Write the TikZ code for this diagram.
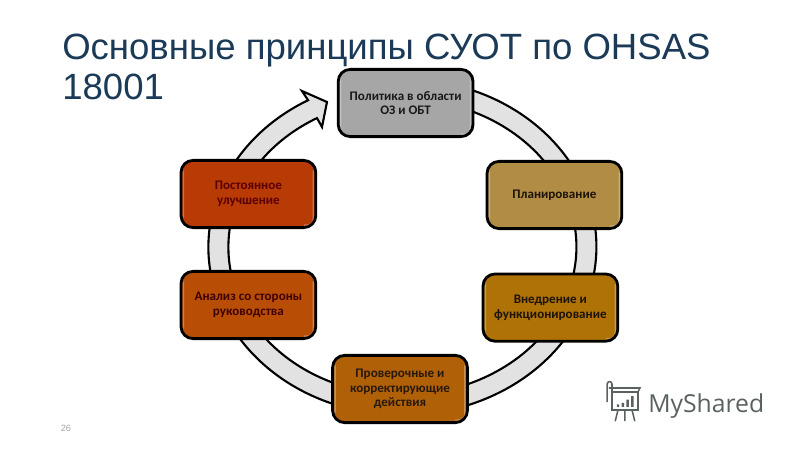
\documentclass[tikz,border=0pt]{standalone}
\usepackage{fontspec}
\setmainfont{Liberation Sans}
\newfontfamily\boxfont{Carlito}[BoldFont={* Bold}]
\newfontfamily\logofont{Open Sans}
\usetikzlibrary{arrows.meta,calc}
\definecolor{titleblue}{HTML}{1B3A57}
\definecolor{ringgray}{HTML}{E2E2E2}
\definecolor{logogray}{HTML}{5A6260}
\definecolor{politfill}{HTML}{A6A6A6}
\definecolor{planfill}{HTML}{B08C44}
\definecolor{vnedfill}{HTML}{AE7207}
\definecolor{provfill}{HTML}{B06006}
\definecolor{analizfill}{HTML}{B84E05}
\definecolor{uluchfill}{HTML}{B83A05}
\tikzset{
  stage/.style={draw=black,line width=2pt,rounded corners=0.3cm,minimum width=3.37cm,minimum height=1.68cm,
    fill=#1,align=center,font=\boxfont\bfseries\fontsize{9.3}{10.4}\selectfont,inner sep=0pt,
    path picture={
      \draw[white,opacity=0.3,line width=1.2pt,rounded corners=0.15cm]
        ($(path picture bounding box.north west)+(0.06,-0.25)$) -- ($(path picture bounding box.south west)+(0.06,0.25)$)
        ($(path picture bounding box.north east)+(-0.06,-0.25)$) -- ($(path picture bounding box.south east)+(-0.06,0.06)$) -- ($(path picture bounding box.south east)+(-0.3,0.06)$);
    }}
}
\begin{document}
\begin{tikzpicture}
  \useasboundingbox (0,0) rectangle (20,11.25);
  \coordinate (C) at (10.06,5.075);
  % ring with the arrow head
  \draw[line width=1.5pt,fill=ringgray,line join=miter] (C) ++(80:4.85 and 4.2)
    arc[start angle=80,end angle=-240.9,x radius=4.85,y radius=4.2]
    -- (7.55,8.975) -- (8.175,8.7) -- (8.05,8.075)
    -- ($(C)+(119.4:4.35 and 3.7)$)
    arc[start angle=-240.6,end angle=80,x radius=4.35,y radius=3.7] -- cycle;
  % stages
  \node[stage=politfill,text=black!90] (polit) at (10.14,8.675) {Политика в области\\ОЗ и ОБТ};
  \node[stage=planfill,text=black!85!brown] (plan) at (13.86,6.375) {Планирование};
  \node[stage=vnedfill,text=black!85!brown] (vned) at (13.76,3.56) {Внедрение и\\функционирование};
  \node[stage=provfill,text=black!80!brown] (prov) at (10,1.525) {Проверочные и\\корректирующие\\действия};
  \node[stage=analizfill,text=black!75!red] (analiz) at (6.21,3.625) {Анализ со стороны\\руководства};
  \node[stage=uluchfill,text=black!65!red] (uluch) at (6.21,6.4) {Постоянное\\улучшение};
  % title and page number
  \node[anchor=north west,text=titleblue,align=left,inner sep=0pt,font=\fontsize{26}{28.5}\selectfont] (title) at (1.55,10.4) {Основные принципы СУОТ по OHSAS\\18001};
  \node[text=gray!70,font=\fontsize{6.5}{8}\selectfont] (page) at (1.65,0.55) {26};
  % logo
  \draw[logogray,line width=1.1pt] (15.3,1) rectangle (15.95,1.45);
  \draw[logogray,line width=1.1pt] (15.22,1.55) -- (16,1.55) -- (15.95,1.45);
  \draw[logogray,line width=1.1pt] (15.3,1.45) -- (15.3,1.65) arc[start angle=0,end angle=180,radius=0.06] -- (15.18,1.2);
  \draw[logogray,line width=1.1pt] (15.45,1) -- (15.38,0.72) (15.62,1) -- (15.62,0.72) (15.8,1) -- (15.87,0.72);
  \fill[logogray] (15.42,1.08) rectangle +(0.06,0.06) (15.54,1.08) rectangle +(0.06,0.1)
    (15.66,1.08) rectangle +(0.06,0.18) (15.78,1.08) rectangle +(0.06,0.27);
  \node[anchor=west,text=logogray,inner sep=0pt,font=\logofont\fontsize{17.6}{20}\selectfont] (logo) at (16.2,1.1) {MyShared};
\end{tikzpicture}
\end{document}
